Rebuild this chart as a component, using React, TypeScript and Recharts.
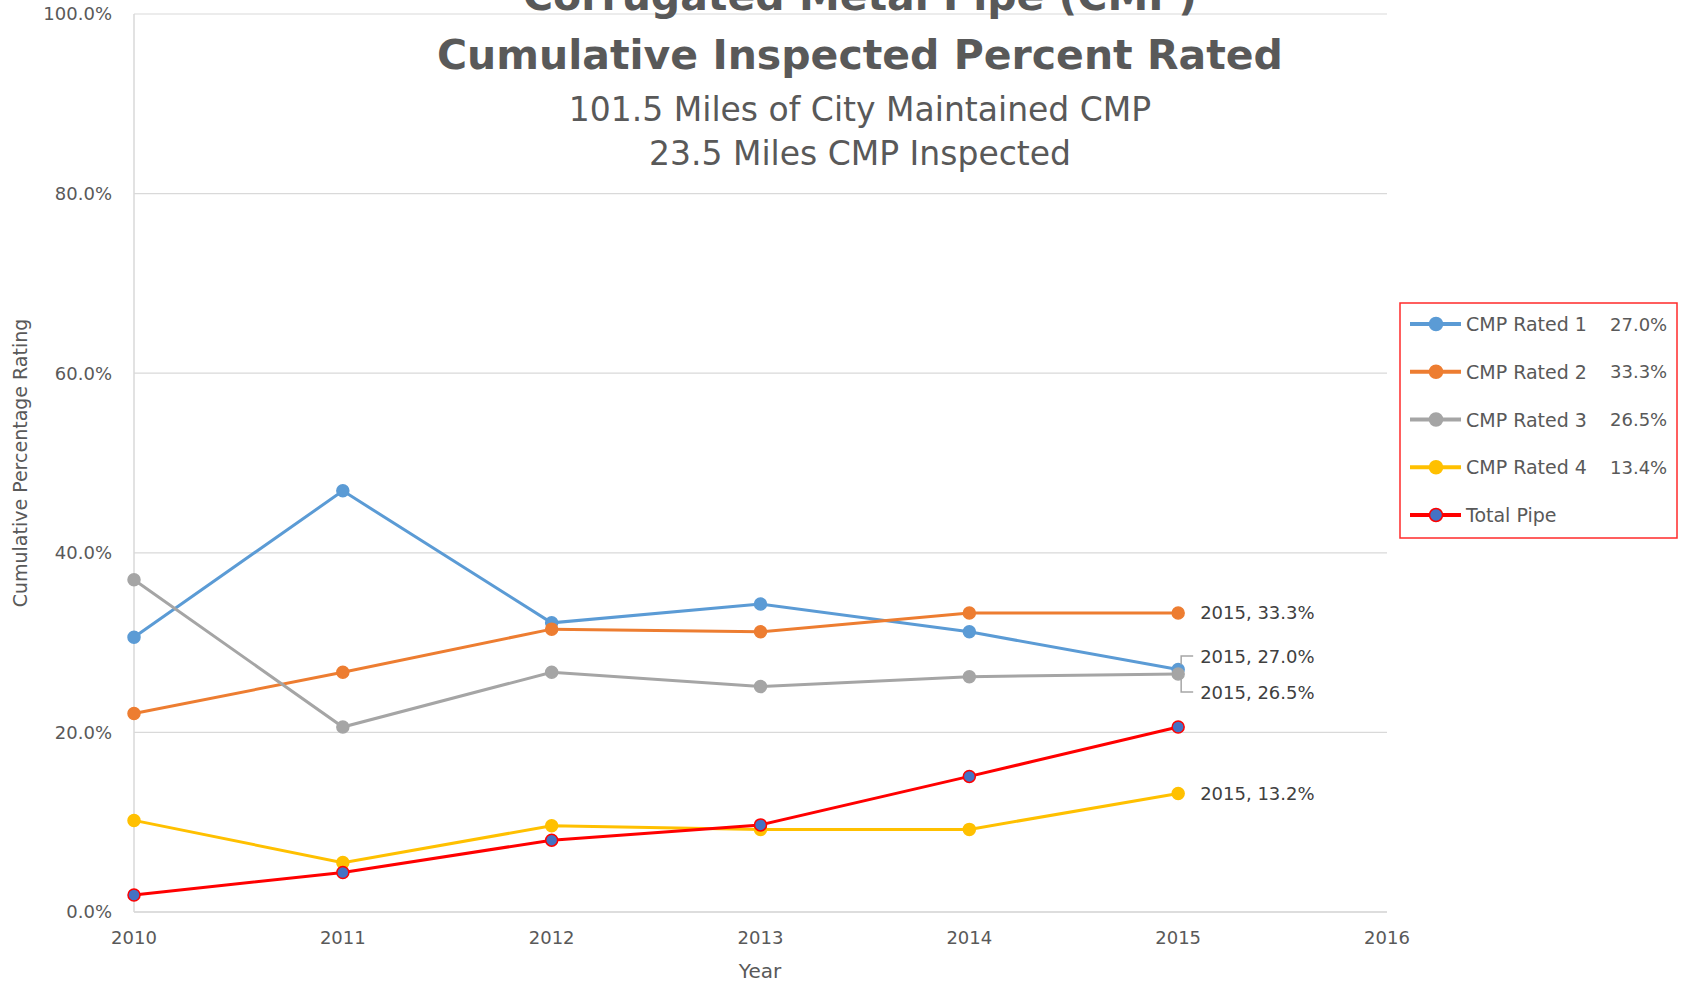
import React from 'react';
import {
  LineChart,
  Line,
  XAxis,
  YAxis,
  CartesianGrid,
  Legend,
  LabelList,
  Customized,
} from 'recharts';

const years = [2010, 2011, 2012, 2013, 2014, 2015];
const xTicks = [2010, 2011, 2012, 2013, 2014, 2015, 2016];
const yTicks = [0, 20, 40, 60, 80, 100];

const rated1 = [30.6, 46.9, 32.2, 34.3, 31.2, 27.0];
const rated2 = [22.1, 26.7, 31.5, 31.2, 33.3, 33.3];
const rated3 = [37.0, 20.6, 26.7, 25.1, 26.2, 26.5];
const rated4 = [10.2, 5.5, 9.6, 9.2, 9.2, 13.2];
const totalPipe = [1.9, 4.4, 8.0, 9.7, 15.1, 20.6];

const seriesNames = ['CMP Rated 1', 'CMP Rated 2', 'CMP Rated 3', 'CMP Rated 4', 'Total Pipe'];
const seriesKeys = ['r1', 'r2', 'r3', 'r4', 'total'];
const legendPercents = ['27.0%', '33.3%', '26.5%', '13.4%', ''];

const colors = ['#5b9bd5', '#ed7d31', '#a5a5a5', '#ffc000', '#ff0000'];
const dotFills = ['#5b9bd5', '#ed7d31', '#a5a5a5', '#ffc000', '#4472c4'];

const data = years.map((year, i) => ({
  year,
  r1: rated1[i],
  r2: rated2[i],
  r3: rated3[i],
  r4: rated4[i],
  total: totalPipe[i],
}));

const FONT = '"DejaVu Sans", Verdana, sans-serif';
const TEXT = '#595959';

// label at the last point, optional little leader bracket
const makeEndLabel = (dy: number, bracket: 'up' | 'down' | null) => (props: any) => {
  const { x, y, value, index } = props;
  if (index !== years.length - 1) return null;
  const ly = y + dy;
  return (
    <g>
      {bracket && (
        <path
          d={`M${x + 3},${bracket === 'up' ? y - 5 : y + 3}V${ly}H${x + 15}`}
          stroke="#a6a6a6"
          strokeWidth={1.5}
          fill="none"
        />
      )}
      <text
        x={x + 22}
        y={ly}
        dominantBaseline="central"
        fontFamily={FONT}
        fontSize={18}
        fill="#404040"
      >
        {`${years[index]}, ${Number(value).toFixed(1)}%`}
      </text>
    </g>
  );
};

const renderLegend = () => (
  <svg width={279} height={237} style={{ display: 'block' }}>
    <rect x={1} y={1} width={277} height={235} fill="#fff" stroke="#ff2a2a" strokeWidth={1.5} />
    {seriesNames.map((name, i) => {
      const cy = 22 + i * 47.75;
      return (
        <g key={name}>
          <line x1={11} x2={62} y1={cy} y2={cy} stroke={colors[i]} strokeWidth={4} />
          <circle cx={37} cy={cy} r={6.5} fill={dotFills[i]} stroke={colors[i]} strokeWidth={1.5} />
          <text x={67} y={cy} dominantBaseline="central" fontFamily={FONT} fontSize={19} fill={TEXT}>
            {name}
          </text>
          <text x={211} y={cy} dominantBaseline="central" fontFamily={FONT} fontSize={18} fill={TEXT}>
            {legendPercents[i]}
          </text>
        </g>
      );
    })}
  </svg>
);

const Titles = () => (
  <g fill={TEXT} fontFamily={FONT} textAnchor="middle">
    <text x={860} y={10} fontSize={41} fontWeight={700}>
      Corrugated Metal Pipe (CMP)
    </text>
    <text x={860} y={69} fontSize={41} fontWeight={700}>
      Cumulative Inspected Percent Rated
    </text>
    <text x={860} y={121} fontSize={33}>
      101.5 Miles of City Maintained CMP
    </text>
    <text x={860} y={165} fontSize={33}>
      23.5 Miles CMP Inspected
    </text>
    <text
      x={0}
      y={0}
      fontSize={19}
      dominantBaseline="central"
      transform="translate(20,463) rotate(-90)"
    >
      Cumulative Percentage Rating
    </text>
    <text x={760} y={971} fontSize={20} dominantBaseline="central">
      Year
    </text>
  </g>
);

const labelOffsets: Array<[number, 'up' | 'down' | null] | null> = [
  [-13.5, 'up'],
  [0, null],
  [18, 'down'],
  [0, null],
  null,
];

export default function App() {
  return (
    <div
      style={{
        position: 'absolute',
        left: 0,
        top: 0,
        width: 1690,
        height: 987,
        overflow: 'hidden',
        background: '#fff',
      }}
    >
      <LineChart width={1690} height={987} data={data} margin={{ top: 14, right: 303, bottom: 0, left: 0 }}>
        <CartesianGrid vertical={false} stroke="#d9d9d9" strokeWidth={1.2} />
        <XAxis
          dataKey="year"
          type="number"
          domain={[2010, 2016]}
          ticks={xTicks}
          height={75}
          tickLine={false}
          tickSize={0}
          tickMargin={19}
          axisLine={{ stroke: '#d9d9d9', strokeWidth: 1.5 }}
          tick={{ fill: TEXT, fontSize: 18, fontFamily: FONT }}
        />
        <YAxis
          domain={[0, 100]}
          ticks={yTicks}
          width={134}
          tickLine={false}
          tickSize={0}
          tickMargin={22}
          axisLine={{ stroke: '#d9d9d9', strokeWidth: 1.5 }}
          tickFormatter={(v: number) => `${v.toFixed(1)}%`}
          tick={{ fill: TEXT, fontSize: 18, fontFamily: FONT }}
        />
        <Legend
          layout="horizontal"
          verticalAlign="middle"
          align="center"
          content={renderLegend}
          wrapperStyle={{ left: 1399, top: 302, width: 279, height: 237 }}
        />
        {seriesKeys.map((key, i) => (
          <Line
            key={key}
            dataKey={key}
            name={seriesNames[i]}
            stroke={colors[i]}
            strokeWidth={3}
            dot={{ r: 6, fill: dotFills[i], stroke: colors[i], strokeWidth: 1.5 }}
            activeDot={false}
            isAnimationActive={false}
          >
            {labelOffsets[i] && (
              <LabelList
                dataKey={key}
                content={makeEndLabel(labelOffsets[i]![0], labelOffsets[i]![1])}
              />
            )}
          </Line>
        ))}
        <Customized component={Titles} />
      </LineChart>
    </div>
  );
}
